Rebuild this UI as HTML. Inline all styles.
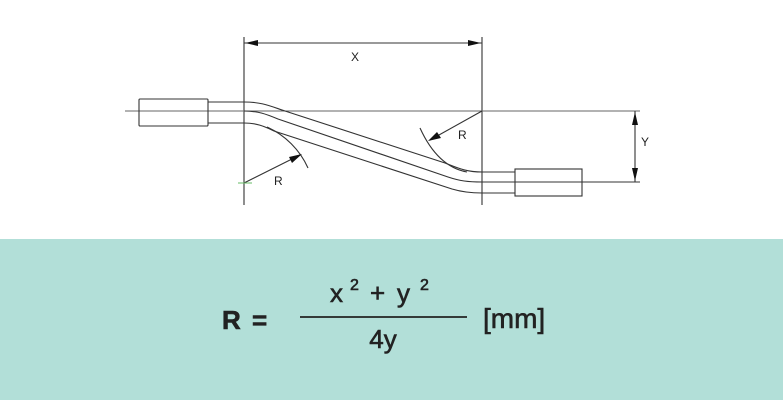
<!DOCTYPE html>
<html><head><style>
html,body{margin:0;padding:0;background:#fff;}
body{width:783px;height:400px;overflow:hidden;position:relative;}
</style></head><body>
<svg width="783" height="400" viewBox="0 0 783 400" xmlns="http://www.w3.org/2000/svg" style="position:absolute;left:0;top:0">
<rect x="0" y="239" width="783" height="161" fill="#b2dfd8"/>
<g stroke="#333" fill="none" stroke-width="1.1">
<line x1="244" y1="37" x2="244" y2="205"/>
<line x1="482" y1="37" x2="482" y2="205"/>
<line x1="244" y1="43" x2="482" y2="43"/>
<line x1="125" y1="111" x2="640" y2="111" stroke="#666"/>
<line x1="482" y1="182" x2="640" y2="182"/>
<rect x="139" y="99" width="69" height="27" rx="1"/>
<rect x="515" y="169" width="67" height="27"/>
<path d="M208,102 L244,102 C262,102 270,106 285,111 L445,163 C458,168 466,172 482,172 L515,172"/>
<path d="M244,111 C258,111 266,114 278,119 L448,177 C460,181 468,182 482,182 L515,182"/>
<path d="M208,123 L244,123 C256,123 264,126 274,131 L452,189 C462,192 470,193 482,193 L515,193"/>
<path d="M267,127 C285,135 300,150 308,168"/>
<path d="M420,128 C430,150 445,168 467,172"/>
<line x1="244" y1="183" x2="300" y2="155"/>
<line x1="482" y1="111" x2="430" y2="140"/>
<line x1="635" y1="111" x2="635" y2="182"/>
</g>
<line x1="238" y1="183" x2="252" y2="183" stroke="#6b6" stroke-width="1"/>
<g fill="#111">
<polygon points="245,43 258,40 258,46"/>
<polygon points="481,43 468,40 468,46"/>
<polygon points="302,154 289,157 292,163"/>
<polygon points="428,141 437,132 441,138"/>
<polygon points="635,112 632,125 638,125"/>
<polygon points="635,181 632,168 638,168"/>
</g>
<g font-family="Liberation Sans, sans-serif" font-size="12" fill="#222">
<text x="351" y="61">X</text>
<text x="274" y="185">R</text>
<text x="458" y="139">R</text>
<text x="641" y="146">Y</text>
</g>
<g font-family="Liberation Sans, sans-serif" fill="#222" stroke="#222" stroke-width="0.6">
<text x="222" y="329" font-size="26" font-weight="bold">R</text>
<text x="252" y="329" font-size="26" font-weight="bold">=</text>
<text x="330" y="302" font-size="26">x</text>
<text x="350" y="290" font-size="16">2</text>
<text x="370" y="302" font-size="26">+</text>
<text x="397" y="302" font-size="26">y</text>
<text x="420" y="290" font-size="16">2</text>
<text x="383" y="348" font-size="26" text-anchor="middle">4y</text>
<text x="483" y="328" font-size="28">[mm]</text>
</g>
<line x1="300" y1="317" x2="467" y2="317" stroke="#222" stroke-width="1.8"/>
</svg>
</body></html>
